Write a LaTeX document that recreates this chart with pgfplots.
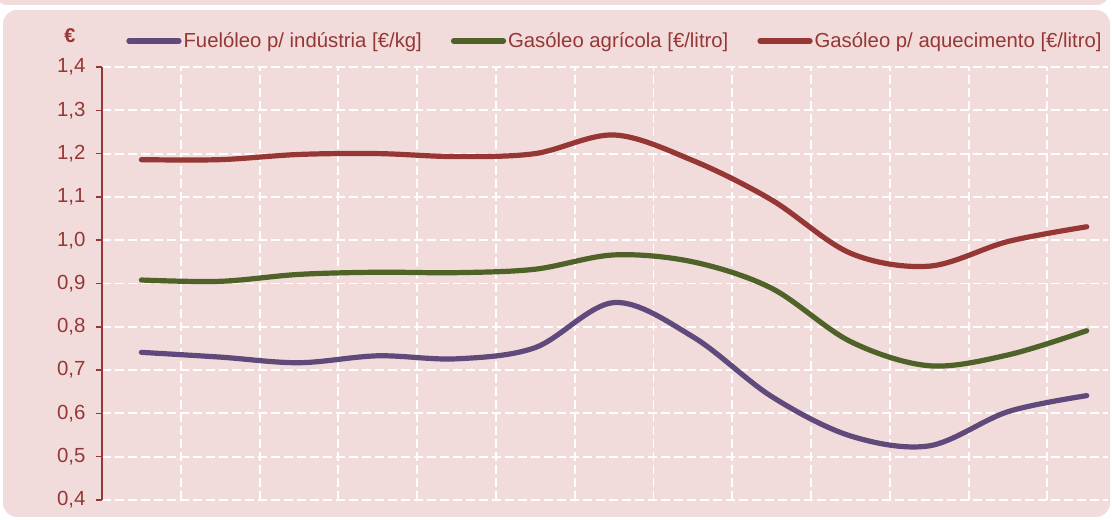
\documentclass[border=0pt]{standalone}
\usepackage{pgfplots}
\pgfplotsset{compat=1.18}
\usepackage{fontspec}
\setmainfont{Liberation Sans}
\definecolor{panel}{HTML}{F2DCDB}
\definecolor{txt}{HTML}{953735}
\definecolor{cpur}{HTML}{604A7B}
\definecolor{cgrn}{HTML}{4F6228}
\definecolor{cred}{HTML}{953735}
\begin{document}
\begin{tikzpicture}[x=1bp,y=1bp]
\useasboundingbox (0,0) rectangle (1112,520);
\fill[white] (0,0) rectangle (1112,520);
\fill[panel,rounded corners=12bp] (-5,515) rectangle (1109,560);
\fill[panel,rounded corners=14bp] (3,3) rectangle (1110,510);
\begin{axis}[
  at={(102bp,20bp)}, anchor=south west, scale only axis,
  width=1006bp, height=433bp,
  xmin=-0.5, xmax=12.27, ymin=0.4, ymax=1.4,
  clip=false,
  font=\fontsize{20}{24}\selectfont,
  axis y line*=left, axis x line*=bottom,
  x axis line style={draw=none},
  y axis line style={draw=txt, line width=1.8bp},
  y tick style={draw=txt, line width=1.5bp},
  x tick style={draw=none},
  tick align=outside, major tick length=6bp,
  xtick={-0.5,0.5,1.5,2.5,3.5,4.5,5.5,6.5,7.5,8.5,9.5,10.5,11.5},
  xticklabels={},
  ytick={0.4,0.5,0.6,0.7,0.8,0.9,1.0,1.1,1.2,1.3,1.4},
  yticklabel={\pgfmathprintnumber[fixed,fixed zerofill,precision=1,use comma,assume math mode=true]{\tick}},
  yticklabel style={text=txt, font=\fontsize{20.5}{24}\selectfont, xshift=-7bp},
  xmajorgrids, ymajorgrids,
  grid style={white, line width=1.9bp, dash pattern=on 8.5bp off 4.5bp},
  legend columns=3,
  legend style={at={(rel axis cs:0.024,1.060)}, anchor=west, draw=none, fill=none,
    inner sep=0pt, text=txt, font=\fontsize{20.4}{24}\selectfont,
    /tikz/every even column/.append style={column sep=27bp},
    nodes={inner sep=2bp}},
  legend image code/.code={\draw[#1, line width=5.2bp, line cap=round] (0bp,0bp) -- (50bp,0bp);},
]
\addplot[cpur, line width=5.2bp, line cap=round, smooth, tension=0.55] coordinates {(0,0.741)(1,0.730)(2,0.717)(3,0.733)(4,0.726)(5,0.752)(6,0.856)(7,0.777)(8,0.639)(9,0.548)(10,0.525)(11,0.604)(12,0.641)};
\addlegendentry{Fuelóleo p/ indústria [€/kg]}
\addplot[cgrn, line width=5.2bp, line cap=round, smooth, tension=0.55] coordinates {(0,0.908)(1,0.905)(2,0.921)(3,0.926)(4,0.925)(5,0.933)(6,0.966)(7,0.950)(8,0.889)(9,0.766)(10,0.710)(11,0.735)(12,0.791)};
\addlegendentry{Gasóleo agrícola [€/litro]}
\addplot[cred, line width=5.2bp, line cap=round, smooth, tension=0.55] coordinates {(0,1.186)(1,1.186)(2,1.198)(3,1.200)(4,1.193)(5,1.200)(6,1.243)(7,1.184)(8,1.093)(9,0.970)(10,0.940)(11,0.997)(12,1.031)};
\addlegendentry{Gasóleo p/ aquecimento [€/litro]}
\node[font=\bfseries\fontsize{20}{24}\selectfont, text=txt] at (rel axis cs:-0.032,1.072) {€};
\end{axis}
\end{tikzpicture}
\end{document}
